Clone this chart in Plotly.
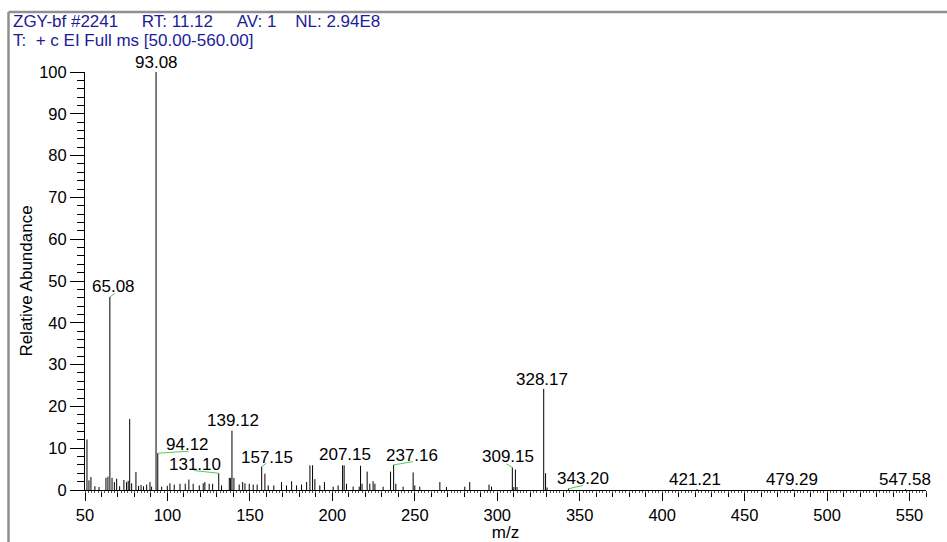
import plotly.graph_objects as go

# ---- spectrum data (m/z, relative abundance %) ----
mz_values = [
    51.2, 52.4, 53.6, 56.0, 58.5, 62.7, 63.9, 65.08, 66.4, 67.8, 69.2, 71.0,
    73.6, 75.2, 76.2, 77.1, 78.3, 80.9, 82.5, 84.0, 85.5, 87.4, 89.4, 90.4,
    93.08, 94.12, 96.5, 99.9, 101.5, 104.1, 107.6, 110.8, 113.0, 115.6, 119.3,
    121.7, 122.7, 125.3, 127.4, 131.10, 132.8, 137.5, 138.3, 139.12, 140.3,
    143.5, 145.6, 147.0, 149.6, 152.0, 154.4, 157.15, 159.1, 161.1, 164.5,
    169.2, 172.2, 175.3, 178.3, 181.3, 184.4, 186.4, 188.0, 189.4, 192.4,
    195.2, 200.5, 203.5, 206.2, 207.15, 208.6, 212.6, 216.3, 217.1, 218.0,
    221.1, 222.7, 224.7, 225.8, 230.8, 235.3, 237.16, 238.5, 242.9, 249.0,
    250.0, 253.0, 265.2, 269.2, 280.3, 283.3, 295.0, 296.5, 309.15, 310.0,
    311.0, 312.0, 328.17, 329.3, 330.2, 343.20, 421.21, 479.29, 547.58,
]
rel_abundance = [
    12.1, 2.3, 3.1, 0.9, 0.7, 2.9, 3.2, 46.2, 2.9, 1.9, 2.7, 0.9,
    2.4, 1.9, 2.2, 17.0, 1.6, 4.3, 1.0, 1.2, 0.9, 1.3, 1.9, 0.8,
    100.0, 8.8, 0.8, 1.0, 1.6, 1.3, 1.5, 1.5, 2.5, 1.5, 1.1,
    1.6, 1.9, 1.5, 1.5, 4.0, 1.1, 2.9, 2.9, 14.2, 2.9,
    1.3, 1.9, 1.6, 1.5, 1.3, 1.3, 5.6, 3.9, 1.1, 1.1,
    1.9, 1.1, 2.1, 1.1, 1.3, 1.9, 5.9, 5.9, 2.6, 1.1,
    1.9, 0.8, 1.1, 5.9, 5.9, 1.5, 0.8, 0.8, 5.8, 1.5,
    4.4, 1.5, 2.1, 1.5, 0.8, 4.4, 6.0, 1.5, 0.8, 4.2,
    1.1, 0.8, 1.9, 0.7, 0.8, 1.9, 1.3, 0.8, 5.4, 0.7,
    4.9, 0.7, 24.2, 4.0, 0.6, 0.3, 0.2, 0.2, 0.2,
]

# peaks that carry an m/z label
labeled_mz = [93.08, 65.08, 328.17, 139.12, 94.12, 131.10, 157.15,
              207.15, 237.16, 309.15, 343.20, 421.21, 479.29, 547.58]

x_ticks = [50, 100, 150, 200, 250, 300, 350, 400, 450, 500, 550]
y_ticks = [0, 10, 20, 30, 40, 50, 60, 70, 80, 90, 100]

NB = "\u00a0"
header_line1 = ("ZGY-bf #2241" + NB * 5 + "RT: 11.12" + NB * 5 + "AV: 1"
                + NB * 4 + "NL: 2.94E8")
header_line2 = "T:" + NB * 2 + "+ c EI Full ms [50.00-560.00]"

# ---- label placement: text offset (dx, dy) and leader line end (lx, ly), pixels ----
label_offsets = {
    93.08: (0, 10, None),
    65.08: (4, 10, (5, 3.4)),
    328.17: (-1.5, 9.5, None),
    139.12: (0.7, 10, None),
    94.12: (29.5, 8.7, (31, 2)),
    131.10: (-23.8, 8.7, (-24.3, 2.7)),
    157.15: (5, 9.2, (4.7, 3.4)),
    207.15: (0.7, 11, None),
    237.16: (18.5, 9.3, (19.3, 3.3)),
    309.15: (-4.8, 10.7, (-5.6, 3.4)),
    343.20: (14.2, 10.5, (14.5, 3.3)),
    421.21: (-1.7, 10, None),
    479.29: (-1, 10, None),
    547.58: (-0.7, 10, None),
}

W, H = 947, 542
ML, MR, MT, MB = 85, 21, 72, 52
TEXT_FONT = "Liberation Sans, Arial, sans-serif"
HEADER_BLUE = "#1c1c96"
LEADER_GREEN = "#55cc55"


def px_x(px):
    return (px - ML) / (W - ML - MR)


def px_y(py):
    return (H - MB - py) / (H - MT - MB)


# stick spectrum: one vertical segment per peak
xs, ys = [], []
for m, a in zip(mz_values, rel_abundance):
    xs += [m, m, None]
    ys += [0, a, None]

fig = go.Figure()
fig.add_trace(go.Scatter(
    x=xs, y=ys, mode="lines",
    line=dict(color="black", width=1),
    hoverinfo="skip", showlegend=False, cliponaxis=False,
))
# carrier for the fine tick ruler along the m/z axis
fig.add_trace(go.Scatter(
    x=[50, 560], y=[0, 0], xaxis="x2", mode="lines",
    line=dict(width=0), hoverinfo="skip", showlegend=False,
))

annotations = []
shapes = []
height_of = dict(zip(mz_values, rel_abundance))
for m in labeled_mz:
    h = height_of[m]
    dx, dy, leader = label_offsets[m]
    annotations.append(dict(
        x=m, y=h, xref="x", yref="y", text=f"{m:.2f}", showarrow=False,
        xanchor="center", yanchor="middle", xshift=dx, yshift=dy,
        font=dict(family=TEXT_FONT, size=17, color="black"),
    ))
    if leader is not None:
        lx, ly = leader
        shapes.append(dict(
            type="line", xref="x", yref="y",
            xsizemode="pixel", ysizemode="pixel",
            xanchor=m, yanchor=h, x0=0, y0=0, x1=lx, y1=ly,
            line=dict(color=LEADER_GREEN, width=1),
        ))

# scan header
header_font = dict(family=TEXT_FONT, size=17, color=HEADER_BLUE)
annotations.append(dict(
    x=px_x(11), y=px_y(22), xref="paper", yref="paper", text=header_line1,
    showarrow=False, xanchor="left", yanchor="middle", font=header_font,
))
annotations.append(dict(
    x=px_x(11), y=px_y(40.5), xref="paper", yref="paper", text=header_line2,
    showarrow=False, xanchor="left", yanchor="middle", font=header_font,
))

# gray window frame (top and left edges)
frame = dict(color="#8f8f8f", width=2.5)
shapes.append(dict(type="line", xref="paper", yref="paper",
                   x0=px_x(8.5), x1=px_x(W), y0=px_y(12), y1=px_y(12), line=frame))
shapes.append(dict(type="line", xref="paper", yref="paper",
                   x0=px_x(8.5), x1=px_x(8.5), y0=px_y(12), y1=px_y(H), line=frame))

axis_font = dict(family=TEXT_FONT, size=16.5, color="black")
title_font = dict(family=TEXT_FONT, size=17, color="black")
fig.update_layout(
    width=W, height=H,
    margin=dict(l=ML, r=MR, t=MT, b=MB),
    paper_bgcolor="white", plot_bgcolor="white",
    annotations=annotations, shapes=shapes,
    xaxis=dict(
        range=[50, 560], tickvals=x_ticks, ticktext=[str(v) for v in x_ticks],
        automargin=False,
        showgrid=False, zeroline=False, showline=True, linecolor="black", linewidth=1,
        ticks="outside", ticklen=10, tickcolor="black", tickwidth=1,
        minor=dict(dtick=10, tick0=50, ticks="outside", ticklen=6, tickcolor="black"),
        tickfont=axis_font,
        title=dict(text="m/z", font=title_font, standoff=0),
    ),
    xaxis2=dict(
        range=[50, 560], overlaying="x", anchor="y", side="bottom",
        automargin=False, showgrid=False, zeroline=False, showline=False,
        showticklabels=False, ticks="outside", dtick=2, tick0=50,
        ticklen=2, tickcolor="#555555", tickwidth=1,
    ),
    yaxis=dict(
        range=[0, 100], tickvals=y_ticks, ticktext=[str(v) for v in y_ticks],
        automargin=False,
        showgrid=False, zeroline=False, showline=True, linecolor="black", linewidth=1,
        ticks="outside", ticklen=14, tickcolor="black", tickwidth=1,
        minor=dict(dtick=2, tick0=0, ticks="outside", ticklen=7, tickcolor="black"),
        tickfont=axis_font,
        title=dict(text="Relative Abundance", font=title_font, standoff=2),
    ),
)

fig.write_html("out.html")
